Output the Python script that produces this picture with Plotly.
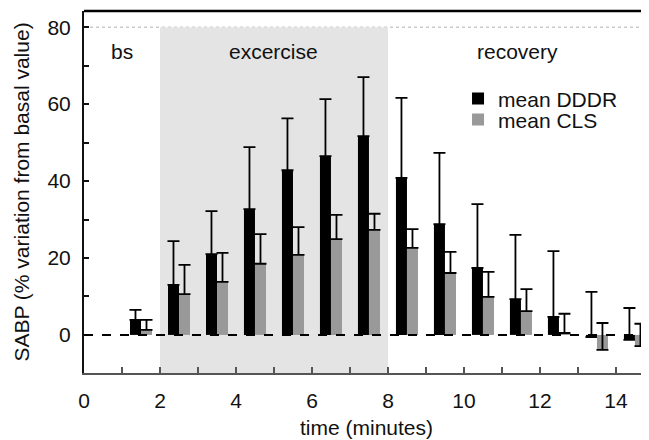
import plotly.graph_objects as go

# ---- data ----
time_min = [1.5, 2.5, 3.5, 4.5, 5.5, 6.5, 7.5, 8.5, 9.5, 10.5, 11.5, 12.5, 13.5, 14.5]
dddr_mean = [3.9, 13.0, 21.0, 32.7, 42.8, 46.5, 51.7, 40.8, 28.8, 17.4, 9.3, 4.7, -0.6, -1.3]
dddr_err = [2.6, 11.4, 11.2, 16.1, 13.5, 14.8, 15.3, 20.8, 18.5, 16.6, 16.7, 17.1, 11.8, 8.3]
cls_mean = [1.3, 10.6, 13.8, 18.5, 20.8, 24.9, 27.3, 22.6, 16.1, 9.9, 6.2, 0.5, -3.9, -2.9]
cls_err = [2.6, 7.6, 7.5, 7.7, 7.2, 6.3, 4.2, 4.9, 5.5, 6.5, 5.7, 5.0, 7.0, 5.8]

x_ticks = list(range(0, 15))
x_ticktext = [str(v) if v % 2 == 0 else "" for v in x_ticks]
y_ticks = list(range(0, 90, 10))
y_ticktext = [str(v) if v % 20 == 0 else "" for v in y_ticks]

phases = [("bs", 1.0, "center"), ("excercise", 5.0, "center"), ("recovery", 10.29, "left")]
exercise_start, exercise_end = 2, 8

FONT = "Liberation Sans, Arial, sans-serif"
FS = 21

fig = go.Figure()
fig.add_trace(go.Bar(
    x=time_min, y=dddr_mean, name="mean DDDR",
    marker=dict(color="#000000", line=dict(width=0)),
    error_y=dict(type="data", symmetric=False, array=dddr_err,
                 arrayminus=[0] * len(dddr_err), color="#000000",
                 thickness=1.8, width=6),
    legend="legend", showlegend=True,
))
fig.add_trace(go.Bar(
    x=time_min, y=cls_mean, name="mean CLS",
    marker=dict(color="#999999", line=dict(width=0)),
    error_y=dict(type="data", symmetric=False, array=cls_err,
                 arrayminus=[0] * len(cls_err), color="#000000",
                 thickness=1.8, width=6),
    legend="legend2", showlegend=True,
))

# shaded exercise period
fig.add_shape(type="rect", xref="x", yref="y", x0=exercise_start, x1=exercise_end,
              y0=-10, y1=80, fillcolor="#e4e4e4", line=dict(width=0), layer="below")
# dotted line at 80
fig.add_shape(type="line", xref="paper", yref="y", x0=0, x1=1, y0=80, y1=80,
              line=dict(color="#b0b0b0", width=1, dash="dot"), layer="below")
# dashed zero line
fig.add_shape(type="line", xref="paper", yref="y", x0=0, x1=1, y0=0, y1=0,
              line=dict(color="#000000", width=2, dash="dash"), layer="above")
# top frame line
fig.add_shape(type="line", xref="paper", yref="paper", x0=0, x1=1, y0=1, y1=1,
              line=dict(color="#000000", width=2.5))

for label, xpos, anchor in phases:
    fig.add_annotation(x=xpos, y=73.8, xref="x", yref="y", text=label,
                       showarrow=False, xanchor=anchor, yanchor="middle",
                       font=dict(size=FS, color="#111111", family=FONT))

legend_common = dict(xanchor="left", yanchor="middle", bgcolor="rgba(0,0,0,0)",
                     font=dict(size=FS, color="#111111", family=FONT),
                     itemwidth=30, tracegroupgap=0)

# page body has an 8px margin, so margins are reduced by 8px on the left/top
fig.update_layout(
    width=649, height=440,
    margin=dict(l=76, r=8, t=3, b=75, autoexpand=False),
    paper_bgcolor="white", plot_bgcolor="white",
    showlegend=True,
    barmode="group", bargap=0.42, bargroupgap=0,
    font=dict(family=FONT, size=FS, color="#111111"),
    legend=dict(x=0.662, y=0.757, **legend_common),
    legend2=dict(x=0.662, y=0.699, **legend_common),
    xaxis=dict(range=[0, 14.87], tickmode="array", tickvals=x_ticks, ticktext=x_ticktext,
               ticks="inside", ticklen=6, tickwidth=2, tickcolor="#555555",
               showline=True, linecolor="#555555", linewidth=2,
               showgrid=False, zeroline=False, ticklabelstandoff=8, automargin=False,
               title=dict(text="time (minutes)", standoff=9, font=dict(size=FS)),
               tickfont=dict(size=FS, color="#111111")),
    yaxis=dict(range=[-9.9, 84.2], tickmode="array", tickvals=y_ticks, ticktext=y_ticktext,
               ticks="inside", ticklen=5, tickwidth=2, tickcolor="#111111",
               showline=True, linecolor="#111111", linewidth=2,
               showgrid=False, zeroline=False, ticklabelstandoff=7, automargin=False,
               title=dict(text="SABP (% variation from basal value)", standoff=12,
                          font=dict(size=FS)),
               tickfont=dict(size=FS, color="#111111")),
)

fig.write_html("out.html")
